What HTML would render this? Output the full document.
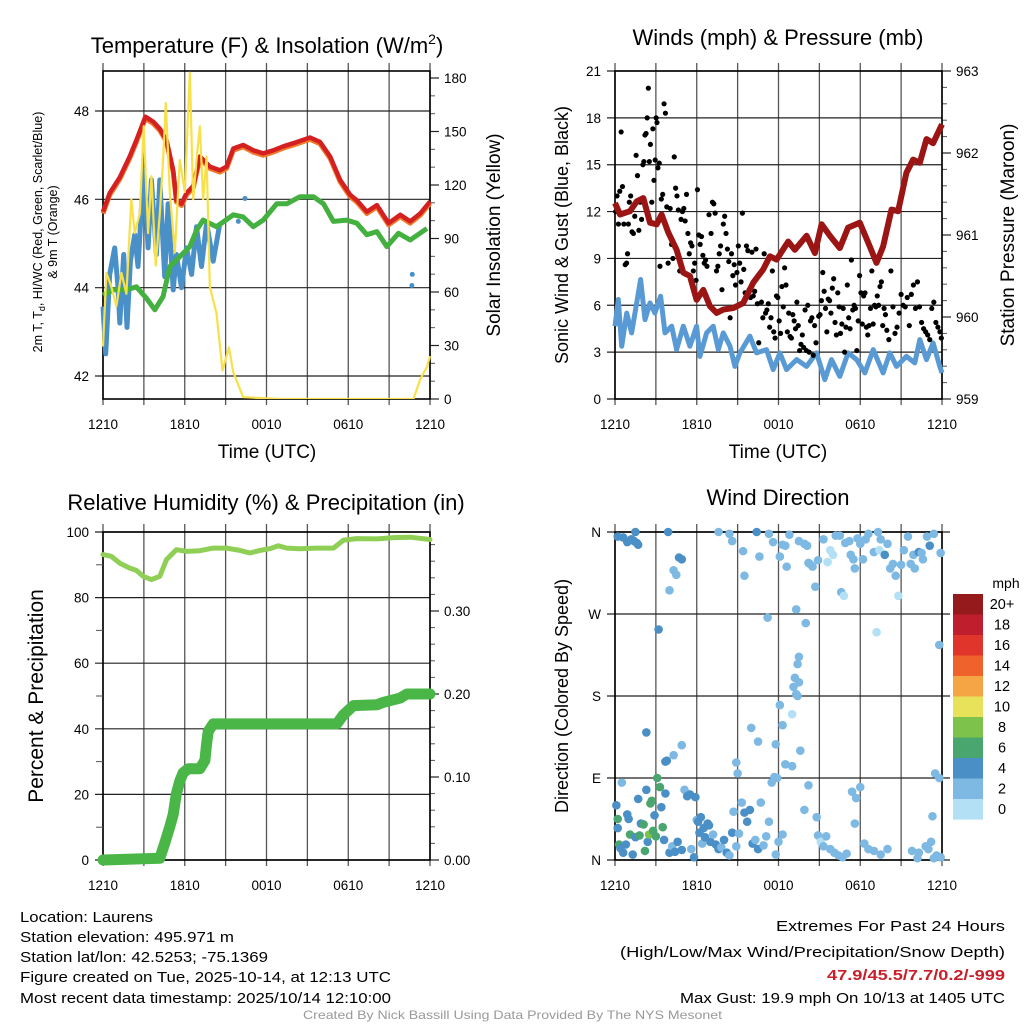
<!DOCTYPE html>
<html><head><meta charset="utf-8"><style>
html,body{margin:0;padding:0;background:#fff;}
svg text{font-family:"Liberation Sans",sans-serif;fill:#000;}
</style></head><body>
<svg id="fig" xmlns="http://www.w3.org/2000/svg" width="1024" height="1024" viewBox="0 0 1024 1024">
<rect width="1024" height="1024" fill="#fff"/>
<g id="layer"></g>
<text x="267" y="53" font-size="22" text-anchor="middle">Temperature (F) &amp; Insolation (W/m<tspan font-size="14" dy="-9">2</tspan><tspan dy="9">)</tspan></text>
<text x="778" y="45" font-size="22" text-anchor="middle">Winds (mph) &amp; Pressure (mb)</text>
<text x="266" y="510" font-size="22" text-anchor="middle">Relative Humidity (%) &amp; Precipitation (in)</text>
<text x="778" y="505" font-size="22" text-anchor="middle">Wind Direction</text>
<text x="267" y="458" font-size="19" text-anchor="middle">Time (UTC)</text>
<text x="778" y="458" font-size="19" text-anchor="middle">Time (UTC)</text>
<text transform="translate(42,232) rotate(-90)" font-size="12.5" text-anchor="middle">2m T, T<tspan font-size="9" dy="3">d</tspan><tspan dy="-3">, HI/WC (Red, Green, Scarlet/Blue)</tspan></text>
<text transform="translate(57,232) rotate(-90)" font-size="12.5" text-anchor="middle">&amp; 9m T (Orange)</text>
<text transform="translate(500,235) rotate(-90)" font-size="19" text-anchor="middle">Solar Insolation (Yellow)</text>
<text transform="translate(568,235) rotate(-90)" font-size="18" text-anchor="middle">Sonic Wind &amp; Gust (Blue, Black)</text>
<text transform="translate(1014,235) rotate(-90)" font-size="19" text-anchor="middle">Station Pressure (Maroon)</text>
<text transform="translate(43,696) rotate(-90)" font-size="21" text-anchor="middle">Percent &amp; Precipitation</text>
<text transform="translate(568,696) rotate(-90)" font-size="18" text-anchor="middle">Direction (Colored By Speed)</text>
<text x="1006" y="588" font-size="14" text-anchor="middle">mph</text>
<g font-size="15">
<text x="20" y="922" textLength="133" lengthAdjust="spacingAndGlyphs">Location: Laurens</text>
<text x="20" y="942" textLength="214" lengthAdjust="spacingAndGlyphs">Station elevation: 495.971 m</text>
<text x="20" y="962" textLength="248" lengthAdjust="spacingAndGlyphs">Station lat/lon: 42.5253; -75.1369</text>
<text x="20" y="982" textLength="371" lengthAdjust="spacingAndGlyphs">Figure created on Tue, 2025-10-14, at 12:13 UTC</text>
<text x="20" y="1003" textLength="371" lengthAdjust="spacingAndGlyphs">Most recent data timestamp: 2025/10/14 12:10:00</text>
<text x="776" y="931" textLength="229" lengthAdjust="spacingAndGlyphs">Extremes For Past 24 Hours</text>
<text x="620" y="957" textLength="385" lengthAdjust="spacingAndGlyphs">(High/Low/Max Wind/Precipitation/Snow Depth)</text>
<text x="827" y="980" textLength="178" lengthAdjust="spacingAndGlyphs" font-weight="bold" style="fill:#c8202a">47.9/45.5/7.7/0.2/-999</text>
<text x="680" y="1003" textLength="325" lengthAdjust="spacingAndGlyphs">Max Gust: 19.9 mph On 10/13 at 1405 UTC</text>
</g>
<text x="303" y="1019" font-size="12" textLength="419" lengthAdjust="spacingAndGlyphs" style="fill:#999">Created By Nick Bassill Using Data Provided By The NYS Mesonet</text>
</svg>
<script>
// ---------- data ----------
const xTickLabels = ["1210","1810","0010","0610","1210"];
const tempRedH = [0,0.49,1.23,1.96,2.45,3.11,3.68,4.17,4.66,5.15,5.39,5.76,6.13,6.62,7.11,7.84,8.58,9.07,9.56,10.29,11.03,11.76,12.5,13.24,13.97,15.2,15.93,16.67,17.4,18.14,18.63,19.36,20.1,20.96,21.81,22.55,23.28,24];
const tempRedV = [45.72,46.14,46.5,46.97,47.34,47.87,47.76,47.6,47.34,46.66,45.98,45.9,46.14,46.3,46.97,46.74,46.66,46.74,47.15,47.23,47.11,47.04,47.11,47.2,47.27,47.4,47.3,46.97,46.44,46.1,45.98,45.72,45.87,45.46,45.65,45.5,45.68,45.95];
const tempGreenH = [0,0.74,1.72,2.45,3.19,3.8,4.41,4.9,5.64,6.37,6.86,7.35,8.33,9.56,10.29,11.03,11.76,12.75,13.48,14.46,15.44,16.18,16.91,17.89,18.63,19.36,20.1,20.83,21.69,22.55,23.77];
const tempGreenV = [43.83,43.95,43.95,44.02,43.76,43.5,43.8,44.48,44.7,44.93,45.3,45.53,45.38,45.65,45.6,45.38,45.53,45.9,45.9,46.06,46.06,45.9,45.5,45.53,45.46,45.2,45.27,44.93,45.23,45.08,45.34];
const tempBlueH = [0,0.2,0.49,0.86,1.1,1.23,1.52,1.76,2.01,2.33,2.57,2.99,3.31,3.55,3.92,4.17,4.53,4.78,5.15,5.39,5.76,6.13,6.5,6.86,7.23,7.6,8.09,8.58];
const tempBlueV = [43.57,42.5,44.3,44.9,44.0,43.2,44.75,43.1,44.6,45.2,44.48,46.66,44.9,46.44,44.75,46.44,44.25,45.9,43.95,44.75,44.0,44.9,44.3,45.38,44.48,45.46,44.6,45.46];
const tempBlueDotsH = [10.42,9.93,22.67,22.7];
const tempBlueDotsV = [46.02,45.5,44.05,44.3];
const solarH = [0,0.25,0.61,0.98,1.35,1.72,2.08,2.33,2.7,2.99,3.31,3.55,3.87,4.17,4.41,4.61,4.9,5.27,5.64,6.0,6.37,6.62,6.86,7.11,7.35,7.6,7.84,8.33,8.77,9.24,9.56,10.29,13,18,22.79,23.28,23.77,24];
const solarV = [29.5,70.7,63,52,70.7,59,112,93,104,153,93,125,74.8,104,134,166,116,82,134,116,183,112,134,153,112,136,63,48,16,29,15,1,0,0,0,11,18,24];
const pressH = [0,0.37,1.1,1.59,2.08,2.57,3.06,3.42,3.91,4.52,5.01,5.5,5.99,6.48,6.97,7.46,7.95,8.68,9.41,10.15,10.88,11.37,11.86,12.71,13.2,14.06,14.67,15.16,15.77,16.5,17.11,17.97,18.7,19.19,19.68,20.29,20.78,21.39,21.88,22.37,22.86,23.35,24];
const pressV = [961.39,961.25,961.29,961.41,961.45,961.15,961.13,961.25,961.03,960.82,960.54,960.5,960.21,960.33,960.13,960.05,960.09,960.11,960.17,960.42,960.58,960.74,960.7,960.92,960.82,960.99,960.78,961.13,960.99,960.84,961.09,961.15,960.86,960.66,960.86,961.31,961.29,961.76,961.92,961.88,962.17,962.12,962.35];
const windH = [0,0.24,0.49,0.86,1.22,1.59,1.88,2.2,2.57,2.93,3.35,3.67,4.16,4.52,5.01,5.5,5.99,6.23,6.72,7.21,7.58,7.95,8.44,8.8,9.17,9.9,10.39,11.12,11.61,12.1,12.59,13.33,14.06,14.79,15.4,15.89,16.5,17.11,17.73,18.34,18.95,19.68,20.17,20.66,21.39,22.0,22.37,22.86,23.35,23.84,24];
const windV = [4.66,6.37,3.38,5.5,4.23,6.15,7.65,5.08,6.15,5.5,6.58,4.23,4.66,3.16,4.66,3.38,4.66,2.73,4.23,4.66,3.16,4.23,3.38,2.09,2.95,4.02,2.95,3.16,1.88,2.95,1.88,2.52,2.09,2.95,1.24,2.52,1.45,2.95,2.52,1.67,3.16,1.67,2.95,2.09,2.73,2.31,3.8,2.52,3.59,2.09,1.67];
const gustH = [0.05,0.15,0.25,0.35,0.45,0.55,0.65,0.75,0.85,0.92,0.98,1.05,1.15,1.25,1.35,1.45,1.55,1.65,1.75,1.85,1.95,2.05,2.12,2.2,2.28,2.36,2.45,2.52,2.6,2.7,2.78,2.86,2.95,3.02,3.08,3.15,3.25,3.3,3.4,3.5,3.6,3.7,3.8,3.9,4.05,4.15,4.25,4.35,4.45,4.55,4.65,4.75,4.85,4.95,5.05,5.15,5.25,5.35,5.45,5.55,5.65,5.75,5.85,5.95,6.05,6.15,6.25,6.35,6.45,6.55,6.65,6.75,6.9,7.05,7.15,7.25,7.35,7.45,7.55,7.65,7.75,7.85,7.95,8.05,8.15,8.25,8.35,8.45,8.55,8.65,8.75,8.85,8.95,9.05,9.15,9.25,9.35,9.45,9.55,9.65,9.75,9.85,9.95,10.05,10.15,10.25,10.35,10.45,10.55,10.65,10.75,10.85,10.95,11.05,11.15,11.25,11.35,11.45,11.55,11.65,11.75,11.85,11.95,12.05,12.15,12.25,12.35,12.45,12.55,12.65,12.75,12.85,12.95,13.05,13.15,13.25,13.35,13.45,13.55,13.65,13.75,13.85,13.95,14.05,14.15,14.25,14.35,14.45,14.55,14.65,14.75,14.85,14.95,15.05,15.15,15.25,15.35,15.45,15.55,15.65,15.75,15.85,15.95,16.05,16.15,16.25,16.35,16.45,16.55,16.65,16.75,16.85,16.95,17.05,17.15,17.25,17.35,17.45,17.55,17.65,17.75,17.85,17.95,18.05,18.15,18.25,18.35,18.45,18.55,18.65,18.75,18.85,18.95,19.05,19.15,19.25,19.35,19.45,19.55,19.65,19.75,19.85,19.95,20.1,20.25,20.4,20.55,20.7,20.85,21.0,21.15,21.3,21.45,21.6,21.75,21.9,22.05,22.2,22.35,22.5,22.65,22.8,22.95,23.1,23.25,23.4,23.55,23.7,23.85,23.95];
const gustV = [12.0,13.0,11.2,13.3,17.1,13.6,11.2,8.6,8.7,9.3,11.2,12.6,13.0,10.7,10.6,11.7,15.6,14.3,10.8,12.6,11.5,15.0,15.2,16.9,17.0,18.0,19.9,15.2,16.3,12.6,17.3,14.0,15.3,18.0,17.7,14.8,15.1,8.5,12.8,13.1,18.9,18.3,12.3,8.7,12.2,9.9,9.0,15.5,13.5,13.0,12.1,8.2,11.5,12.0,12.2,11.4,13.1,10.6,9.3,10.0,9.8,8.2,8.7,7.6,13.4,10.5,9.9,10.4,9.2,8.7,8.9,8.5,11.8,10.6,12.6,12.5,11.9,8.2,8.5,9.3,9.8,7.0,11.2,11.7,10.6,9.6,8.8,5.2,9.3,7.9,8.6,7.3,8.1,9.8,8.7,7.5,11.9,8.3,6.8,9.8,9.5,7.0,6.5,9.4,6.6,6.9,9.6,6.1,3.6,8.0,6.2,5.2,9.3,5.5,5.7,6.1,4.6,5.2,8.2,4.3,3.9,6.6,6.5,5.0,4.2,7.2,5.9,8.4,7.3,4.3,5.5,4.0,3.9,5.4,5.0,4.5,6.2,4.7,3.1,3.5,4.1,3.3,5.7,3.1,6.0,3.0,5.0,5.2,2.8,4.7,3.6,9.8,5.3,5.4,6.3,8.1,6.9,5.8,4.3,6.4,6.3,5.5,7.1,7.7,4.9,4.1,6.8,5.9,4.2,4.8,5.8,3.0,4.6,7.3,5.2,4.5,8.9,5.7,6.0,5.8,3.1,5.0,7.9,6.8,4.8,6.6,6.8,4.6,4.1,4.7,5.8,8.2,4.8,6.0,5.9,6.6,6.0,7.2,7.5,4.7,5.8,5.4,4.4,3.8,8.2,5.9,4.2,4.6,5.5,6.7,6.0,5.9,6.5,4.7,6.7,7.3,5.8,7.5,5.9,4.9,4.5,4.3,4.1,3.8,5.8,6.2,4.9,4.6,4.3,3.9,5.8];
const rhH = [0,0.61,1.23,1.96,2.45,2.94,3.55,4.17,4.66,5.39,6.13,7.11,8.09,9.07,10.05,10.78,11.52,12.25,12.87,13.48,14.46,15.69,16.91,17.65,18.63,20.1,21.32,22.55,24];
const rhV = [93.1,92.6,90.5,89,88.3,86.5,85.5,86.5,91.6,94.6,94.1,94.3,95.1,95.1,94.4,93.6,94.4,94.9,95.8,95.1,94.9,95.1,95.1,97.5,98,97.9,98.3,98.4,97.7];
const precipH = [0,4.17,4.53,4.9,5.15,5.39,5.64,5.88,6.25,7.11,7.48,7.6,7.72,8.09,17.16,17.65,18.38,20.1,20.59,21.81,22.3,24];
const precipV = [0,0.002,0.02,0.04,0.055,0.08,0.095,0.105,0.11,0.11,0.12,0.14,0.155,0.164,0.164,0.175,0.186,0.187,0.19,0.195,0.2,0.2];
const dirData = [[0.1,60,4.5],[0.2,45,7],[0.2,35,4.5],[0.3,17,7],[0.4,13,4.5],[0.5,85,3.5],[0.6,8,4.5],[0.8,17,4.5],[0.9,50,4.5],[1.0,45,4.5],[1.1,28,7],[1.3,6,4.5],[1.5,25,4.5],[1.7,67,4.5],[1.8,27,7],[1.9,40,4.5],[2.1,39,7],[2.2,10,7],[2.3,77,4.5],[2.4,20,4.5],[2.5,28,9],[2.6,62,7],[2.7,65,7],[2.8,32,7],[2.9,49,4.5],[3.0,26,7],[3.1,90,7],[3.3,80,7],[3.4,58,4.5],[3.5,36,7],[3.7,73,4.5],[3.6,22,4.5],[2.3,140,4.5],
[0.2,355,4.5],[0.6,354,4.5],[0.9,349,4.5],[1.2,352,4.5],[1.4,350,4.5],[1.5,360,4.5],[1.6,348,4.5],[1.7,346,4.5],[3.2,253,4.5],[3.9,360,4.5],
[3.7,108,4.5],[3.8,109,4.5],[4.3,115,3],[4.9,126,3],[4.0,296,3],[4.3,318,3],[4.5,313,3],[4.7,332,4.5],[4.9,330,4.5],[4.0,8,4.5],[4.2,15,3],[4.4,9,4.5],[4.6,20,4.5],[4.9,11,4.5],[5.1,77,3],[5.3,70,4.5],[5.5,72,4.5],
[5.6,12,3],[5.8,3,4.5],[5.9,69,4.5],[6.0,44,3],[6.1,42,4.5],[6.2,30,4.5],[6.3,47,4.5],[6.4,18,3],[6.5,35,4.5],[6.6,25,4.5],[6.8,40,4.5],[6.9,38,4.5],[7.0,20,4.5],[7.2,28,3],[7.4,17,4.5],[7.6,12,4.5],[7.8,14,3],[8.0,22,4.5],[8.2,8,4.5],[8.4,5,3],[8.6,30,4.5],[8.7,53,3],[8.9,15,3],[9.1,29,3],[9.3,63,3],[9.5,52,4.5],[9.7,42,4.5],[9.9,55,4.5],[10.1,18,4.5],[10.3,22,3],[10.5,12,4.5],[10.7,63,3],[10.9,16,3],[11.1,26,3],[11.3,42,3],[11.5,85,3],[11.8,6,3],[12.0,20,3],[12.3,28,3],
[8.9,107,3],[9.0,95,3],[10.0,145,3],[10.5,130,3],[11.8,127,3],[12.1,170,3],[12.3,148,3],[13.0,103,3],[13.6,120,3],[11.9,90,3],[11.7,91,3],[12.5,105,3],[13.5,195,3],[13.3,182,3],[13.4,180,3],[13.1,190,3],[13.2,200,3],[13.4,215,3],[13.5,223,3],[13.3,275,3],[13.0,160,1],[14.2,82,3],[14.8,47,3],[13.9,55,3],
[14.9,27,3],[15.1,20,1],[15.3,15,3],[15.5,26,3],[15.8,12,3],[16.1,8,3],[16.4,5,3],[16.7,3,3],[17.0,7,3],[17.4,75,3],[17.7,68,3],[18.0,80,3],[17.6,40,3],[18.3,18,3],[18.6,12,3],[19.0,10,3],[19.5,6,3],[20.0,12,3],[21.8,10,3],[22.3,8,3],[22.8,15,3],[23.0,12,3],[23.2,20,3],[23.4,2,3],[23.6,5,3],[23.3,48,3],[23.5,95,3],[23.8,90,3],[23.9,3,3],[22.2,2,3],
[7.6,360,3],[8.4,358,3],[8.6,350,3],[9.4,339,3],[9.5,312,3],[10.4,360,4.5],[10.6,333,3],[11.3,358,3],[11.6,349,3],[12.1,333,3],[12.3,346,3],[12.5,345,3],[12.6,322,3],[12.8,357,3],[13.5,350,3],[13.9,347,3],[14.2,326,3],[14.1,345,3],[14.3,325,3],[14.5,322,3],[14.7,300,3],[14.9,329,3],[15.3,352,3],[15.6,327,1],[15.8,340,1],[16.0,335,1],[16.2,356,3],[16.5,356,3],[16.6,294,3],[16.8,290,1],[16.9,348,3],[17.2,350,3],[17.3,335,3],[17.5,330,3],[17.6,320,3],[17.8,353,3],[18.0,347,3],[18.2,330,3],[18.4,352,3],[18.6,358,3],[19.0,338,3],[19.3,360,3],[19.4,340,1],[19.5,352,3],[19.8,335,4.5],[20.0,347,3],[20.2,320,3],[20.4,325,3],[20.6,312,3],[20.8,290,1],[21.0,324,3],[21.2,340,3],[21.5,355,3],[21.7,325,3],[21.9,335,3],[22.0,320,3],[22.3,338,4.5],[22.5,337,3],[22.6,330,3],[22.9,355,3],[23.1,345,4.5],[23.4,358,3],[23.9,337,3],[23.8,236,3],[19.2,250,1],[11.2,266,3],[14.0,260,3]];
const cbLabels = ["20+","18","16","14","12","10","8","6","4","2","0"];
const cbColors = ["#951a1c","#bf1e2d","#e0352a","#f0622c","#f6a545","#e8e25a","#7dc24a","#4aa66f","#4a8fc6","#7db9e3","#b3e0f5"];

// ---------- drawing ----------
const NS="http://www.w3.org/2000/svg";
const layer=document.getElementById('layer');
function mk(tag,attrs,parent){const e=document.createElementNS(NS,tag);for(const k in attrs)e.setAttribute(k,attrs[k]);(parent||layer).appendChild(e);return e;}
function lin(d0,d1,r0,r1){return v=>r0+(v-d0)/(d1-d0)*(r1-r0);}
function path(H,V,xs,ys){return H.map((h,i)=>(i?'L':'M')+xs(h).toFixed(1)+','+ys(V[i]).toFixed(1)).join('');}

function frame(x0,x1,y0,y1,leftTicks,leftScale,rightTicks,rightScale,rightMinor,name){
  const g=mk('g',{});
  
  
  const xs=lin(0,24,x0,x1);
  for(let h=0;h<=24;h+=3){
    const l=mk('line',{x1:xs(h),x2:xs(h),y1:y0-8,y2:y1+6,stroke:'#555','stroke-width':1.3},g);
    
    
  }
  xTickLabels.forEach((t,i)=>{
    const tx=mk('text',{x:xs(i*6),y:y1+30,'font-size':13.5,'text-anchor':'middle'},g);tx.textContent=t;
    
    
  });
  leftTicks.forEach(t=>{
    const y=leftScale(t.v);
    const l=mk('line',{x1:x0-8,x2:x1+(rightTicks?0:8),y1:y,y2:y,stroke:'#222','stroke-width':1.2},g);
    
    
    const tx=mk('text',{x:x0-14,y:y+5,'font-size':13.5,'text-anchor':'end'},g);tx.textContent=t.l;
    
    
  });
  if(rightTicks){
    rightMinor.forEach(v=>{mk('line',{x1:x1,x2:x1+5,y1:rightScale(v),y2:rightScale(v),stroke:'#555','stroke-width':1},g);});
    rightTicks.forEach(t=>{
      const y=rightScale(t.v);
      mk('line',{x1:x1,x2:x1+9,y1:y,y2:y,stroke:'#222','stroke-width':1.2},g);
      const tx=mk('text',{x:x1+14,y:y+5,'font-size':13.5},g);tx.textContent=t.l;
      
      
    });
  }
  const r=mk('rect',{x:x0,y:y0,width:x1-x0,height:y1-y0,fill:'none',stroke:'#000','stroke-width':1.6},g);
  
  
  return xs;
}
function seq(a,b,s){const o=[];for(let v=a;v<=b+1e-9;v+=s)o.push(v);return o;}

// Panel 1: temperature
{
  const ys=lin(48,42,111,376), yr=lin(0,180,399,78);
  const xs=frame(103,430,71,399,[42,44,46,48].map(v=>({v,l:String(v)})),ys,
    seq(0,180,30).map(v=>({v,l:String(v)})),yr,seq(0,180,10),'temp');
  const cl=mk('clipPath',{id:'c1'});mk('rect',{x:100,y:71,width:333,height:328},cl);
  const g=mk('g',{'clip-path':'url(#c1)'});
  let p;
  p=mk('path',{d:path(tempBlueH,tempBlueV,xs,ys),fill:'none',stroke:'#4a90c8','stroke-width':5,'stroke-linejoin':'round'},g);
  
  tempBlueDotsH.forEach((h,i)=>{const c=mk('circle',{cx:xs(h),cy:ys(tempBlueDotsV[i]),r:2.5,fill:'#4a90c8'},g);});
  p=mk('path',{d:path(tempGreenH,tempGreenV,xs,ys),fill:'none',stroke:'#44b040','stroke-width':5,'stroke-linejoin':'round'},g);
  
  p=mk('path',{d:path(tempRedH,tempRedV.map(v=>v-0.04),xs,ys),fill:'none',stroke:'#f07a2a','stroke-width':5,'stroke-linejoin':'round'},g);
  
  p=mk('path',{d:path(tempRedH,tempRedV,xs,ys),fill:'none',stroke:'#d42020','stroke-width':4.5,'stroke-linejoin':'round'},g);
  
  p=mk('path',{d:path(solarH,solarV,xs,yr),fill:'none',stroke:'#f8e04a','stroke-width':2.2,'stroke-linejoin':'round'},g);
  
}
// Panel 2: winds
{
  const ys=lin(0,21,399,71), yr=lin(959,963,399,71);
  const xs=frame(615,942,71,399,seq(0,21,3).map(v=>({v,l:String(v)})),ys,
    [959,960,961,962,963].map(v=>({v,l:String(v)})),yr,seq(959,963,0.2),'wind');
  const cl=mk('clipPath',{id:'c2'});mk('rect',{x:612,y:71,width:333,height:328},cl);
  const g=mk('g',{'clip-path':'url(#c2)'});
  let p=mk('path',{d:path(windH,windV,xs,ys),fill:'none',stroke:'#5a9ad4','stroke-width':5,'stroke-linejoin':'round'},g);
  
  gustH.forEach((h,i)=>{const c=mk('circle',{cx:xs(h),cy:ys(gustV[i]),r:2.6,fill:'#000'},g);});
  p=mk('path',{d:path(pressH,pressV,xs,yr),fill:'none',stroke:'#9b1515','stroke-width':6,'stroke-linejoin':'round'},g);
  
}
// Panel 3: RH & precip
{
  const ys=lin(0,100,860,532), yr=lin(0,0.4,860,528);
  const xs=frame(103,430,532,860,seq(0,100,20).map(v=>({v,l:String(v)})),ys,
    [0,0.1,0.2,0.3].map(v=>({v,l:v.toFixed(2)})),yr,seq(0,0.39,0.02),'rh');
  seq(10,90,20).forEach(v=>mk('line',{x1:96,x2:103,y1:ys(v),y2:ys(v),stroke:'#555'}));
  const g=mk('g',{});
  let p=mk('path',{d:path(rhH,rhV,xs,ys),fill:'none',stroke:'#8fcf55','stroke-width':5,'stroke-linejoin':'round','stroke-linecap':'round'},g);
  
  p=mk('path',{d:path(precipH,precipV,xs,yr),fill:'none',stroke:'#4ab648','stroke-width':11,'stroke-linejoin':'round','stroke-linecap':'round'},g);
  
}
// Panel 4: wind direction
{
  const ys=lin(0,360,860,532);
  const xs=frame(615,942,532,860,[{v:0,l:'N'},{v:90,l:'E'},{v:180,l:'S'},{v:270,l:'W'},{v:360,l:'N'}],ys,null,null,null,'dir');
  const g=mk('g',{});
  function col(s){return s<2?cbColors[10]:s<4?cbColors[9]:s<6?cbColors[8]:s<8?cbColors[7]:s<10?cbColors[6]:cbColors[5];}
  dirData.forEach(d=>{const c=mk('circle',{cx:xs(d[0]),cy:ys(d[1]),r:4.3,fill:col(d[2])},g);});
  const cb=mk('g',{});
  
  
  cbColors.forEach((c,i)=>{
    mk('rect',{x:953,y:594+i*20.5,width:30,height:20.6,fill:c},cb);
    const t=mk('text',{x:1002,y:609+i*20.5,'font-size':14.5,'text-anchor':'middle'},cb);t.textContent=cbLabels[i];
    
    
  });
}
</script>
</body></html>
